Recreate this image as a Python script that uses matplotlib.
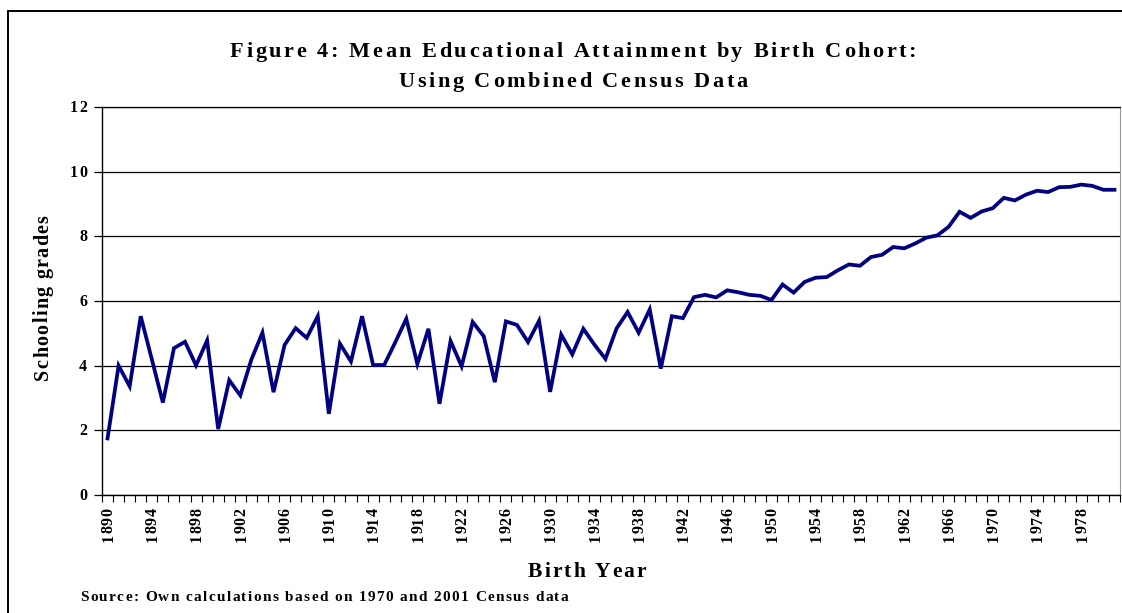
import matplotlib.pyplot as plt
from matplotlib.patches import Rectangle
from matplotlib.font_manager import FontProperties, findfont, get_font

# birth cohorts 1890..1981
years = list(range(1890, 1982))
schooling = [
    1.75, 4.00, 3.36, 5.53, 4.20, 2.86, 4.54, 4.74, 4.01, 4.78,
    2.04, 3.55, 3.08, 4.19, 5.02, 3.18, 4.64, 5.16, 4.86, 5.53,
    2.51, 4.68, 4.13, 5.53, 4.02, 4.02, 4.72, 5.45, 4.05, 5.14,
    2.82, 4.76, 3.98, 5.35, 4.91, 3.49, 5.37, 5.26, 4.73, 5.39,
    3.19, 4.96, 4.35, 5.14, 4.65, 4.21, 5.15, 5.66, 5.02, 5.74,
    3.91, 5.53, 5.47, 6.12, 6.19, 6.11, 6.33, 6.27, 6.19, 6.16,
    6.03, 6.51, 6.26, 6.59, 6.72, 6.74, 6.95, 7.13, 7.09, 7.36,
    7.43, 7.67, 7.63, 7.78, 7.96, 8.03, 8.29, 8.76, 8.57, 8.77,
    8.87, 9.19, 9.11, 9.29, 9.41, 9.37, 9.52, 9.53, 9.60, 9.56,
    9.44, 9.44,
]
label_years = list(range(1890, 1979, 4))
y_ticks = [0, 2, 4, 6, 8, 10, 12]

FAMILY = ['Liberation Serif', 'DejaVu Serif']
plt.rcParams['font.family'] = FAMILY

W, H = 1122, 613
fig = plt.figure(figsize=(W / 100, H / 100), dpi=100)
fig.patch.set_facecolor('white')


def advances(s, size):
    # glyph advance widths in pixels (Excel draws this text with extra letter spacing)
    prop = FontProperties(family=FAMILY, weight='bold', size=size)
    font = get_font(findfont(prop))
    font.set_size(size, 100)
    return [font.load_char(ord(c)).linearHoriAdvance / 65536 for c in s]


def tracked(x, y, s, size, track, ha='center', rot=0):
    # x, y in display pixels, origin bottom-left; y is the baseline
    adv = advances(s, size)
    total = sum(adv) + track * (len(s) - 1)
    pos = {'center': -total / 2, 'left': 0, 'right': -total}[ha]
    for ch, a in zip(s, adv):
        if rot == 0:
            px, py = x + pos, y
        else:
            px, py = x, y + pos
        fig.text(px / W, py / H, ch, rotation=rot, rotation_mode='anchor',
                 ha='left', va='baseline', fontsize=size, fontweight='bold')
        pos += a + track


# outer chart frame (runs off right and bottom edges)
fig.patches.append(Rectangle((8 / W, -0.1), 1.2, (H - 11) / H + 0.1,
                             transform=fig.transFigure, fill=False,
                             edgecolor='black', linewidth=1.4))

ax = fig.add_axes([102 / W, (H - 495) / H, (1120 - 102) / W, (495 - 107) / H])

n = len(years)
xs = [i + 0.5 for i in range(n)]
ax.plot(xs, schooling, color='#000080', linewidth=2.7, solid_joinstyle='miter')

ax.set_xlim(0, n)
ax.set_ylim(0, 12)
ax.set_yticks(y_ticks)
ax.yaxis.grid(True, color='black', linewidth=0.9)
ax.set_axisbelow(True)

# tick marks at category boundaries
ax.set_xticks(range(0, n + 1))
ax.tick_params(axis='x', length=5, width=0.8, direction='out', labelbottom=False)
ax.tick_params(axis='y', length=6, width=0.9, direction='out', labelleft=False)

ax.spines['left'].set_linewidth(1.0)
ax.spines['bottom'].set_linewidth(1.0)
ax.spines['top'].set_linewidth(0.9)
ax.spines['right'].set_color('#999999')
ax.spines['right'].set_linewidth(0.8)

# tick labels
for yr in label_years:
    dx, dy = ax.transData.transform((years.index(yr) + 0.5, 0))
    tracked(dx + 5, dy - 13, str(yr), 11.5, 0.6, ha='right', rot=90)
for v in y_ticks:
    dx, dy = ax.transData.transform((0, v))
    tracked(dx - 15, dy - 5, str(v), 11.5, 1.5, ha='right')

# titles and notes
tracked(573, H - 57, 'Figure 4: Mean Educational Attainment by Birth Cohort:', 16, 2.6)
tracked(573, H - 87, 'Using Combined Census Data', 16, 2.6)
tracked(48, H - 297.5, 'Schooling grades', 14.5, 1.3, rot=90)
tracked(587, H - 577, 'Birth Year', 15.5, 2.0)
tracked(80, H - 601, 'Source: Own calculations based on 1970 and 2001 Census data',
        11, 1.4, ha='left')

fig.savefig('out.png', dpi=100)
